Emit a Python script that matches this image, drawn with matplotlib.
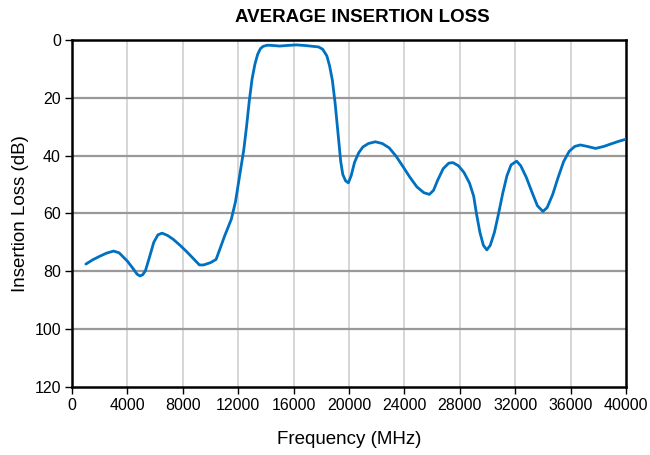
import matplotlib.pyplot as plt
import numpy as np

plt.rcParams['font.family'] = ['Liberation Sans', 'DejaVu Sans']

# frequency (MHz) and insertion loss (dB)
freq = [1000, 1500, 2000, 2500, 3000, 3400, 4000, 4400, 4700, 4900, 5100, 5300,
        5600, 5900, 6200, 6500, 6900, 7300, 7800, 8300, 8800, 9200, 9500, 10000,
        10400, 10700, 11000, 11500, 11800, 12100, 12400, 12600, 12800, 13000,
        13200, 13400, 13600, 13800, 14100, 14500, 15000, 15500, 16200, 16800,
        17400, 17800, 18100, 18400, 18600, 18800, 19000, 19200, 19400, 19550,
        19750, 19950, 20150, 20400, 20700, 21000, 21400, 21900, 22400, 22900,
        23400, 23900, 24400, 24900, 25400, 25800, 26100, 26400, 26800, 27200,
        27500, 27900, 28300, 28700, 29000, 29200, 29450, 29700, 29950, 30200,
        30500, 30800, 31100, 31400, 31700, 32100, 32400, 32800, 33200, 33600,
        34000, 34300, 34700, 35100, 35500, 35900, 36300, 36700, 37200, 37800,
        38400, 39000, 39500, 40000]
loss = [77.5, 76.0, 74.8, 73.7, 73.0, 73.6, 76.5, 79.0, 81.0, 81.6, 81.2, 79.8,
        75.0, 70.0, 67.4, 66.8, 67.6, 68.9, 71.0, 73.3, 75.8, 77.8, 77.8, 77.0,
        75.9, 72.0, 68.0, 62.0, 56.0, 47.0, 38.0, 30.0, 21.0, 13.5,
        8.5, 5.0, 3.0, 2.2, 1.8, 1.9, 2.1, 1.9, 1.7, 1.9,
        2.2, 2.4, 3.2, 5.5, 9.0, 14.0, 22.0, 32.0, 42.0, 46.5,
        48.7, 49.4, 47.0, 42.3, 39.0, 37.0, 35.8, 35.2, 35.8, 37.3,
        40.2, 43.8, 47.5, 50.8, 52.8, 53.4, 52.0, 48.5, 44.5, 42.6,
        42.4, 43.5, 45.8, 49.5, 54.0, 60.0, 66.5, 71.0, 72.6, 71.0,
        66.5, 60.0, 53.0, 47.0, 43.2, 41.9, 43.5, 47.5, 52.5, 57.3,
        59.3, 58.0, 53.5, 47.5, 42.0, 38.5, 36.8, 36.3, 36.8, 37.5,
        36.8, 35.8, 35.0, 34.3]

xticks = np.arange(0, 40001, 4000)
yticks = np.arange(0, 121, 20)

fig = plt.figure(figsize=(6.5, 4.55), dpi=100)
ax = fig.add_axes([0.1108, 0.1495, 0.8523, 0.7626])

ax.plot(freq, loss, color='#0070c0', lw=2.0, solid_joinstyle='round',
        solid_capstyle='round', zorder=3)

ax.set_xlim(0, 40000)
ax.set_ylim(120, 0)
ax.set_xticks(xticks)
ax.set_yticks(yticks)
ax.tick_params(labelsize=11.5, length=5, width=1, direction='out', pad=3)

for y in yticks[1:-1]:
    ax.axhline(y, color='#999999', lw=1.6, zorder=1)
for x in xticks[1:-1]:
    ax.axvline(x, color='#cccccc', lw=1.1, zorder=0)

for s in ax.spines.values():
    s.set_color('black')
    s.set_linewidth(1.8)

ax.set_xlabel('Frequency (MHz)', fontsize=13.5, labelpad=13)
ax.set_ylabel('Insertion Loss (dB)', fontsize=13.5, labelpad=4)
fig.text(0.557, 0.962, 'AVERAGE INSERTION LOSS', ha='center', va='center',
         fontsize=13.5, fontweight='bold')

fig.savefig('out.png', dpi=100)
